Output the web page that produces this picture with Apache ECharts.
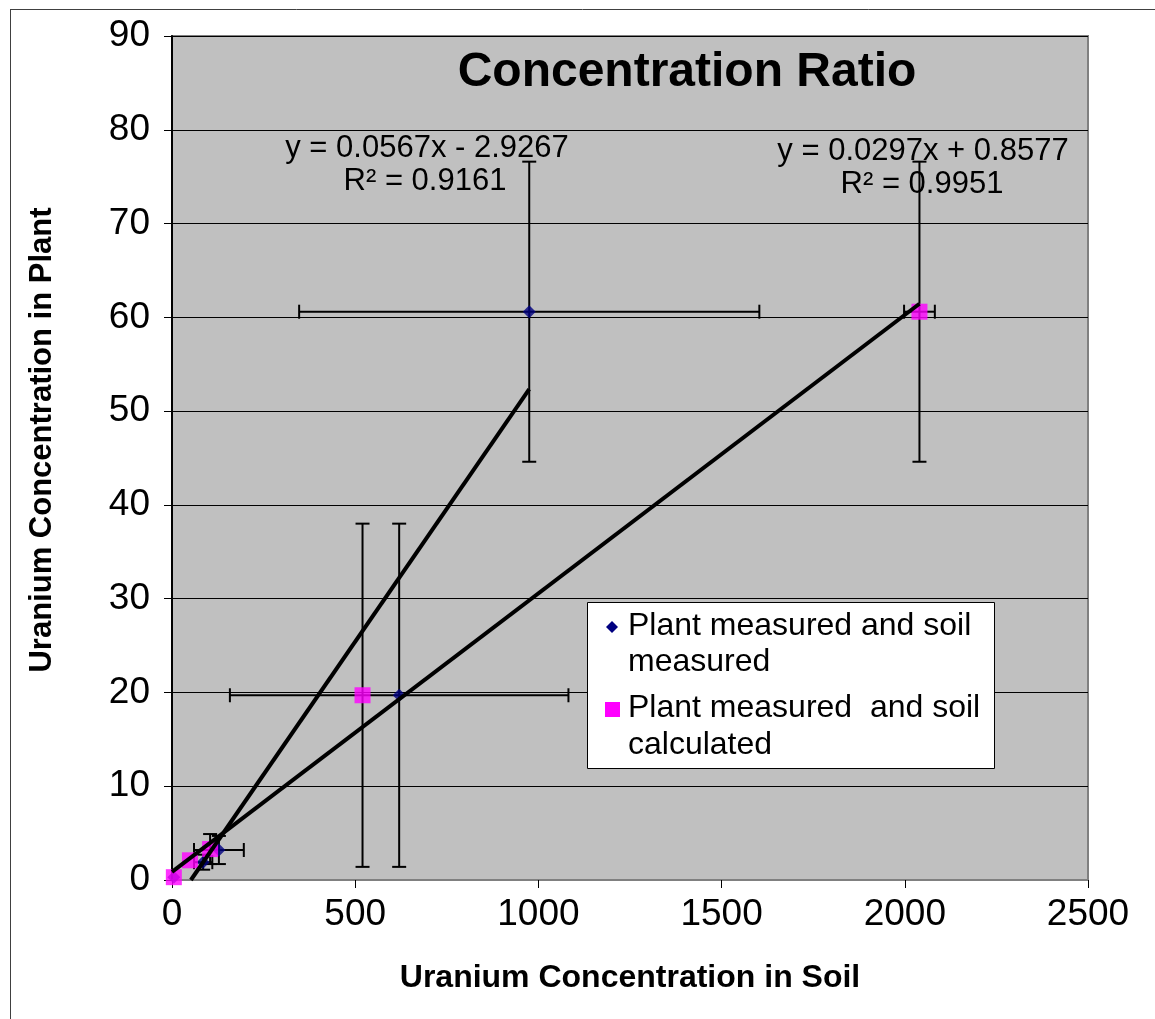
<!DOCTYPE html>
<html>
<head>
    <meta charset="UTF-8">
    <title>Concentration Ratio</title>
    <script src="https://cdn.jsdelivr.net/npm/echarts@6/dist/echarts.min.js"></script>
    <style>
        html, body { margin: 0; padding: 0; background: #fff; }
        #container { width: 1155px; height: 1019px; }
    </style>
</head>
<body>
<div id="container"></div>
<script>
    var FONT = 'Liberation Sans, Arial, sans-serif';

    // plant measured / soil measured (blue diamonds)
    var blueX    = [5, 85, 128, 620, 975];
    var blueY    = [0.3, 1.9, 3.2, 19.7, 60.6];
    var blueXErr = [0, 25, 68, 462, 628];
    var blueYErr = [0, 0.8, 1.5, 18.3, 16.0];

    // plant measured / soil calculated (pink squares)
    var pinkX    = [5, 49, 104, 520, 2040];
    var pinkY    = [0.3, 2.1, 3.3, 19.7, 60.6];
    var pinkXErr = [0, 0, 0, 0, 42];
    var pinkYErr = [0, 0, 1.6, 18.3, 16.0];

    // linear trendlines as printed on the chart
    var trendSlope = [0.0567, 0.0297];
    var trendIntercept = [-2.9267, 0.8577];
    var trendFrom = [51.6, 0];
    var trendTo = [975, 2040];

    var xTicks = [0, 500, 1000, 1500, 2000, 2500];
    var yTicks = [0, 10, 20, 30, 40, 50, 60, 70, 80, 90];

    function zip(xs, ys) {
        return xs.map(function (v, i) { return [v, ys[i]]; });
    }
    function errRows(xs, ys, ex, ey) {
        return xs.map(function (v, i) { return [v, ys[i], ex[i], ey[i]]; });
    }
    function trendLine(k) {
        return [trendFrom[k], trendTo[k]].map(function (x) {
            return [x, trendSlope[k] * x + trendIntercept[k]];
        });
    }

    function renderErr(params, api) {
        var x = api.value(0), y = api.value(1), ex = api.value(2), ey = api.value(3);
        var cap = 7, kids = [];
        var st = { stroke: '#000', lineWidth: 2 };
        if (ey > 0) {
            var a = api.coord([x, y + ey]), b = api.coord([x, y - ey]);
            kids.push({ type: 'line', shape: { x1: a[0], y1: a[1], x2: b[0], y2: b[1] }, style: st });
            kids.push({ type: 'line', shape: { x1: a[0] - cap, y1: a[1], x2: a[0] + cap, y2: a[1] }, style: st });
            kids.push({ type: 'line', shape: { x1: b[0] - cap, y1: b[1], x2: b[0] + cap, y2: b[1] }, style: st });
        }
        if (ex > 0) {
            var c = api.coord([x - ex, y]), d = api.coord([x + ex, y]);
            kids.push({ type: 'line', shape: { x1: c[0], y1: c[1], x2: d[0], y2: d[1] }, style: st });
            kids.push({ type: 'line', shape: { x1: c[0], y1: c[1] - cap, x2: c[0], y2: c[1] + cap }, style: st });
            kids.push({ type: 'line', shape: { x1: d[0], y1: d[1] - cap, x2: d[0], y2: d[1] + cap }, style: st });
        }
        return { type: 'group', children: kids };
    }

    var myChart = echarts.init(document.getElementById('container'));
    myChart.setOption({
        animation: false,
        textStyle: { fontFamily: FONT },
        grid: {
            left: 172, right: 67, top: 36, bottom: 139,
            show: true, backgroundColor: '#c0c0c0',
            borderColor: '#808080', borderWidth: 2
        },
        xAxis: {
            type: 'value', min: 0, max: 2500, interval: 500,
            name: 'Uranium Concentration in Soil',
            nameLocation: 'middle', nameGap: 82,
            nameTextStyle: { fontSize: 32, fontWeight: 'bold', color: '#000', fontFamily: FONT },
            axisLine: { lineStyle: { color: '#808080', width: 2 } },
            axisTick: { length: 8, lineStyle: { color: '#000', width: 1 } },
            axisLabel: {
                margin: 16, fontSize: 37, color: '#000', fontFamily: FONT,
                formatter: function (v) { return xTicks.indexOf(v) >= 0 ? String(v) : ''; }
            },
            splitLine: { show: false }
        },
        yAxis: {
            type: 'value', min: 0, max: 90, interval: 10,
            axisLine: { lineStyle: { color: '#000', width: 2 } },
            axisTick: { length: 8, lineStyle: { color: '#000', width: 1 } },
            axisLabel: {
                margin: 22, fontSize: 37, color: '#000', fontFamily: FONT,
                formatter: function (v) { return yTicks.indexOf(v) >= 0 ? String(v) : ''; }
            },
            splitLine: { lineStyle: { color: '#000', width: 1 } }
        },
        series: [
            {
                type: 'custom', name: 'errBlue', renderItem: renderErr, z: 2,
                data: errRows(blueX, blueY, blueXErr, blueYErr)
            },
            {
                type: 'custom', name: 'errPink', renderItem: renderErr, z: 2,
                data: errRows(pinkX, pinkY, pinkXErr, pinkYErr)
            },
            {
                type: 'scatter', name: 'Plant measured and soil measured', z: 3,
                symbol: 'diamond', symbolSize: 13,
                itemStyle: { color: '#000080' },
                data: zip(blueX, blueY)
            },
            {
                type: 'scatter', name: 'Plant measured  and soil calculated', z: 3,
                symbol: 'rect', symbolSize: 16,
                itemStyle: { color: '#ff00ff' },
                data: zip(pinkX, pinkY)
            },
            {
                type: 'line', z: 4, symbol: 'none',
                lineStyle: { color: '#000', width: 4 },
                data: trendLine(0)
            },
            {
                type: 'line', z: 4, symbol: 'none',
                lineStyle: { color: '#000', width: 4 },
                data: trendLine(1)
            }
        ],
        graphic: [
            { type: 'line', shape: { x1: 10, y1: 9.5, x2: 1155, y2: 9.5 }, style: { stroke: '#404040', lineWidth: 1 } },
            { type: 'line', shape: { x1: 10.5, y1: 9, x2: 10.5, y2: 1019 }, style: { stroke: '#404040', lineWidth: 1 } },
            {
                type: 'text', z: 10, x: 42, y: 440, rotation: Math.PI / 2,
                style: { text: 'Uranium Concentration in Plant', x: 0, y: 0, align: 'center', verticalAlign: 'middle',
                    font: 'bold 31px ' + FONT, fill: '#000' }
            },
            {
                type: 'text', z: 10,
                style: { text: 'Concentration Ratio', x: 687, y: 73, align: 'center', verticalAlign: 'middle',
                    font: 'bold 48px ' + FONT, fill: '#000' }
            },
            { type: 'text', z: 10, style: { text: 'y = 0.0567x - 2.9267', x: 427, y: 148, align: 'center', verticalAlign: 'middle', font: '31px ' + FONT, fill: '#000' } },
            { type: 'text', z: 10, style: { text: 'R² = 0.9161', x: 425, y: 181, align: 'center', verticalAlign: 'middle', font: '31px ' + FONT, fill: '#000' } },
            { type: 'text', z: 10, style: { text: 'y = 0.0297x + 0.8577', x: 923, y: 151, align: 'center', verticalAlign: 'middle', font: '31px ' + FONT, fill: '#000' } },
            { type: 'text', z: 10, style: { text: 'R² = 0.9951', x: 922, y: 184, align: 'center', verticalAlign: 'middle', font: '31px ' + FONT, fill: '#000' } },
            // legend box
            { type: 'rect', z: 20, shape: { x: 587.5, y: 602.5, width: 407, height: 166 }, style: { fill: '#fff', stroke: '#000', lineWidth: 1 } },
            { type: 'polygon', z: 21, shape: { points: [[612, 621], [618, 627], [612, 633], [606, 627]] }, style: { fill: '#000080' } },
            { type: 'rect', z: 21, shape: { x: 605, y: 702, width: 15, height: 15 }, style: { fill: '#ff00ff' } },
            { type: 'text', z: 21, style: { text: 'Plant measured and soil', x: 628, y: 626, verticalAlign: 'middle', font: '32px ' + FONT, fill: '#000' } },
            { type: 'text', z: 21, style: { text: 'measured', x: 628, y: 662, verticalAlign: 'middle', font: '32px ' + FONT, fill: '#000' } },
            { type: 'text', z: 21, style: { text: 'Plant measured  and soil', x: 628, y: 708, verticalAlign: 'middle', font: '32px ' + FONT, fill: '#000' } },
            { type: 'text', z: 21, style: { text: 'calculated', x: 628, y: 745, verticalAlign: 'middle', font: '32px ' + FONT, fill: '#000' } }
        ]
    });
</script>
</body>
</html>
